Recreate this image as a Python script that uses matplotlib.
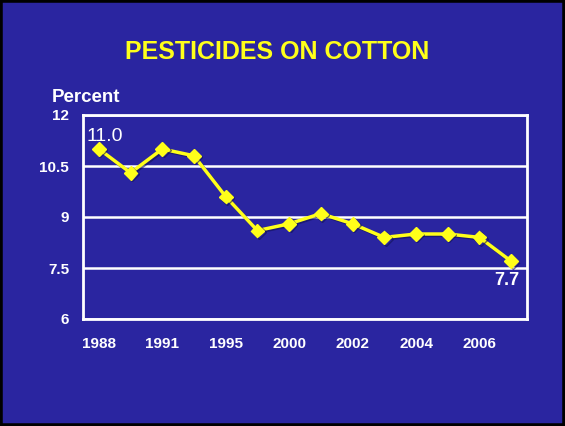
import numpy as np
import matplotlib.pyplot as plt
from matplotlib.patches import Rectangle
import matplotlib.patheffects as pe

# data
years = ["1988", "1989", "1991", "1992", "1995", "1996", "2000",
         "2001", "2002", "2003", "2004", "2005", "2006", "2007"]
percent = [11.0, 10.3, 11.0, 10.8, 9.6, 8.6, 8.8,
           9.1, 8.8, 8.4, 8.5, 8.5, 8.4, 7.7]
shown_labels = ["1988", "1991", "1995", "2000", "2002", "2004", "2006"]
y_ticks = [6, 7.5, 9, 10.5, 12]
y_tick_labels = ["6", "7.5", "9", "10.5", "12"]

bg = "#2A25A0"
yellow = "#FFFF1A"

plt.rcParams["font.family"] = ["Liberation Sans", "DejaVu Sans"]

fig = plt.figure(figsize=(5.65, 4.26), dpi=100, facecolor=bg)
ax = fig.add_axes([83 / 565, 107 / 426, 444 / 565, 204 / 426])
ax.set_facecolor(bg)

x = np.arange(len(years))
ax.plot(x, percent, color=yellow, lw=2.5, marker="D", ms=7, mec=yellow,
        zorder=4,
        path_effects=[pe.SimpleLineShadow(offset=(1, -1), shadow_color="#111155", alpha=0.6),
                      pe.Normal()])

ax.set_xlim(-0.5, len(years) - 0.5)
ax.set_ylim(6, 12)
ax.set_yticks(y_ticks)
ax.set_yticklabels(y_tick_labels)
# only every other year is labelled
ax.set_xticks([i for i, y in enumerate(years) if y in shown_labels])
ax.set_xticklabels(shown_labels)
ax.tick_params(length=0, colors="white", labelsize=11)
ax.tick_params(axis="x", pad=13)
ax.tick_params(axis="y", pad=10)
for lbl in ax.get_xticklabels() + ax.get_yticklabels():
    lbl.set_fontweight("bold")

ax.grid(axis="y", color="white", lw=1.8)
ax.set_axisbelow(True)
for s in ax.spines.values():
    s.set_color("white")
    s.set_linewidth(2)

ax.annotate(f"{percent[0]:.1f}", (x[0], percent[0]), xytext=(4.5, 5.5),
            textcoords="offset points", ha="center", va="baseline",
            color="white", fontsize=14)
ax.annotate(f"{percent[-1]:.1f}", (x[-1], percent[-1]), xytext=(-3, -8),
            textcoords="offset points", ha="center", va="top",
            color="white", fontsize=13, fontweight="bold")

fig.text(277 / 565, 1 - 52 / 426, "PESTICIDES ON COTTON", color=yellow,
         fontsize=18, fontweight="bold", ha="center", va="center")
fig.text(52 / 565, 1 - 97 / 426, "Percent", color="white",
         fontsize=13.5, fontweight="bold", ha="left", va="center")

fig.patches.append(Rectangle((0, 0), 1, 1, transform=fig.transFigure,
                             fill=False, ec="black", lw=4))

fig.savefig("out.png", dpi=100, facecolor=bg)
